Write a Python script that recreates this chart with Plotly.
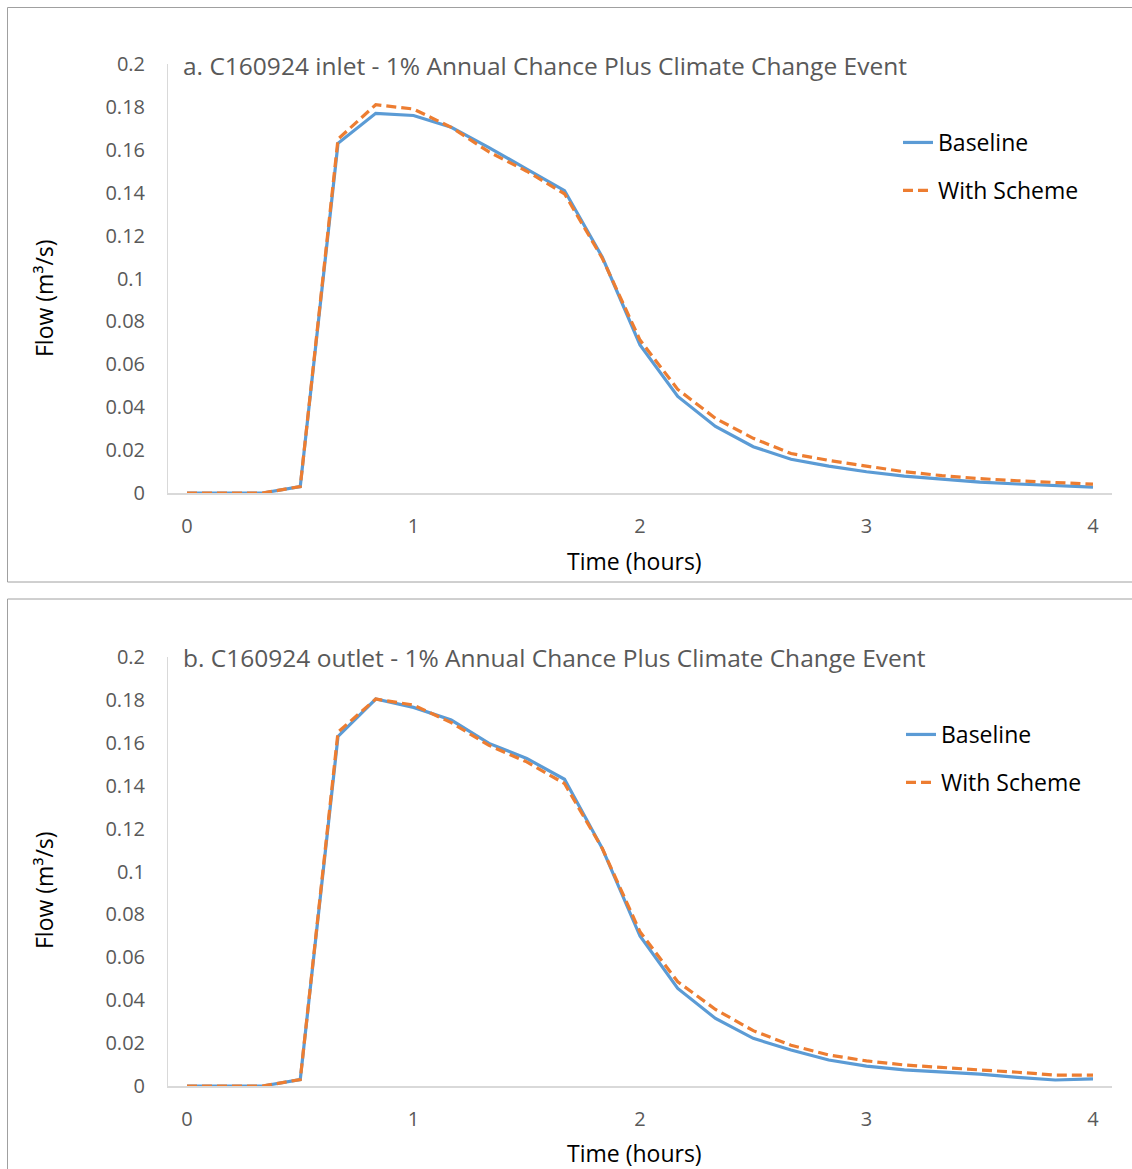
import plotly.graph_objects as go

# ---- data ----
time_hours = [0, 0.1667, 0.3333, 0.5, 0.6667, 0.8333, 1.0, 1.1667, 1.3333, 1.5, 1.6667, 1.8333,
              2.0, 2.1667, 2.3333, 2.5, 2.6667, 2.8333, 3.0, 3.1667, 3.3333, 3.5, 3.6667, 3.8333, 4.0]

inlet_baseline = [0, 0, 0, 0.003, 0.163, 0.177, 0.176, 0.1705, 0.161, 0.151, 0.141, 0.110,
                  0.069, 0.045, 0.031, 0.0216, 0.0157, 0.0125, 0.0099, 0.0079, 0.0064, 0.0051,
                  0.0042, 0.0033, 0.0027]
inlet_scheme = [0, 0, 0, 0.003, 0.165, 0.181, 0.179, 0.1705, 0.159, 0.150, 0.1395, 0.1095,
                0.0713, 0.0483, 0.0348, 0.0255, 0.0184, 0.0152, 0.0126, 0.0099, 0.0081, 0.0067,
                0.0057, 0.0050, 0.0041]

outlet_baseline = [0, 0, 0, 0.003, 0.163, 0.1804, 0.1765, 0.1706, 0.1597, 0.1527, 0.143, 0.1108,
                   0.0699, 0.0455, 0.0315, 0.0222, 0.0168, 0.0121, 0.0093, 0.0075, 0.0064, 0.0055,
                   0.0040, 0.0028, 0.0033]
outlet_scheme = [0, 0, 0, 0.003, 0.165, 0.1804, 0.1776, 0.1694, 0.1588, 0.1511, 0.141, 0.1108,
                 0.0719, 0.0486, 0.0357, 0.0258, 0.019, 0.0145, 0.0117, 0.0098, 0.0085, 0.0075,
                 0.0064, 0.0051, 0.0051]

x_tickvals = [0, 1, 2, 3, 4]
x_ticktext = ["0", "1", "2", "3", "4"]
y_tickvals = [0, 0.02, 0.04, 0.06, 0.08, 0.1, 0.12, 0.14, 0.16, 0.18, 0.2]
y_ticktext = ["0", "0.02", "0.04", "0.06", "0.08", "0.1", "0.12", "0.14", "0.16", "0.18", "0.2"]

titles = ["a. C160924 inlet - 1% Annual Chance Plus Climate Change Event",
          "b. C160924 outlet - 1% Annual Chance Plus Climate Change Event"]
series_names = ["Baseline", "With Scheme"]

# ---- styling ----
W, H = 1132, 1169
FONT = "Open Sans"
BLUE = "#5B9BD5"
ORANGE = "#ED7D31"
GREY_TXT = "#595959"

def py(pix):
    return 1 - pix / H

def px(pix):
    return pix / W

fig = go.Figure()

panels = [
    (inlet_baseline, inlet_scheme, "x", "y", "legend"),
    (outlet_baseline, outlet_scheme, "x2", "y2", "legend2"),
]
for base, sch, xa, ya, lg in panels:
    fig.add_trace(go.Scatter(x=time_hours, y=base, mode="lines", name=series_names[0],
                             line=dict(color=BLUE, width=3.2), xaxis=xa, yaxis=ya,
                             legend=lg, legendgroup="a"))
    fig.add_trace(go.Scatter(x=time_hours, y=sch, mode="lines", name=series_names[1],
                             line=dict(color=ORANGE, width=3.2, dash="10px,5px"), xaxis=xa, yaxis=ya,
                             legend=lg, legendgroup="b"))

xdom = [px(168), px(1112)]
xr = [-0.0839, 4.0839]
common_x = dict(range=xr, tickvals=x_tickvals, ticktext=x_ticktext, showgrid=False, zeroline=False,
                showline=True, linecolor="#d9d9d9", linewidth=1.5, ticks="",
                tickfont=dict(family=FONT, size=20, color=GREY_TXT), ticklabelstandoff=14,
                domain=xdom, fixedrange=True, automargin=False)
common_y = dict(range=[0, 0.2], tickvals=y_tickvals, ticktext=y_ticktext, showgrid=False,
                zeroline=False, showline=True, linecolor="#d9d9d9", linewidth=1, ticks="",
                tickfont=dict(family=FONT, size=20, color=GREY_TXT), ticklabelstandoff=18,
                fixedrange=True, automargin=False)

LEG_FONT = dict(family=FONT, size=23, color="black")
fig.update_layout(
    width=W, height=H,
    margin=dict(l=0, r=0, t=0, b=0, autoexpand=False),
    paper_bgcolor="white", plot_bgcolor="white",
    xaxis=dict(**common_x, anchor="y"),
    yaxis=dict(**common_y, domain=[py(493), py(64)], anchor="x"),
    xaxis2=dict(**common_x, anchor="y2"),
    yaxis2=dict(**common_y, domain=[py(1086), py(657)], anchor="x2"),
    legend=dict(x=px(898), y=py(121), xanchor="left", yanchor="top",
                font=LEG_FONT, tracegroupgap=15, bgcolor="rgba(0,0,0,0)"),
    legend2=dict(x=px(901), y=py(713), xanchor="left", yanchor="top",
                 font=LEG_FONT, tracegroupgap=15, bgcolor="rgba(0,0,0,0)"),
    showlegend=True,
)

# panel borders
fig.add_shape(type="rect", xref="paper", yref="paper", x0=px(7.5), x1=px(1140), y0=py(582), y1=py(7.5),
              line=dict(color="#a0a0a0", width=1), layer="below")
fig.add_shape(type="rect", xref="paper", yref="paper", x0=px(7.5), x1=px(1140), y0=py(1180), y1=py(599),
              line=dict(color="#a0a0a0", width=1), layer="below")

# titles and axis titles
for i, (ty, xt_y, yt_y) in enumerate([(65, 561, 298), (657, 1153, 890)]):
    fig.add_annotation(text=titles[i], xref="paper", yref="paper", x=px(181), y=py(ty),
                       xanchor="left", yanchor="middle", showarrow=False,
                       font=dict(family=FONT, size=24.5, color=GREY_TXT))
    fig.add_annotation(text="Time (hours)", xref="paper", yref="paper", x=px(634), y=py(xt_y),
                       xanchor="center", yanchor="middle", showarrow=False,
                       font=dict(family=FONT, size=23, color="black"))
    fig.add_annotation(text="Flow (m³/s)", xref="paper", yref="paper", x=px(44), y=py(yt_y),
                       xanchor="center", yanchor="middle", showarrow=False, textangle=-90,
                       font=dict(family=FONT, size=23, color="black"))

fig.write_html("out.html", config={"displayModeBar": False},
               post_script="document.body.style.margin='0';")
